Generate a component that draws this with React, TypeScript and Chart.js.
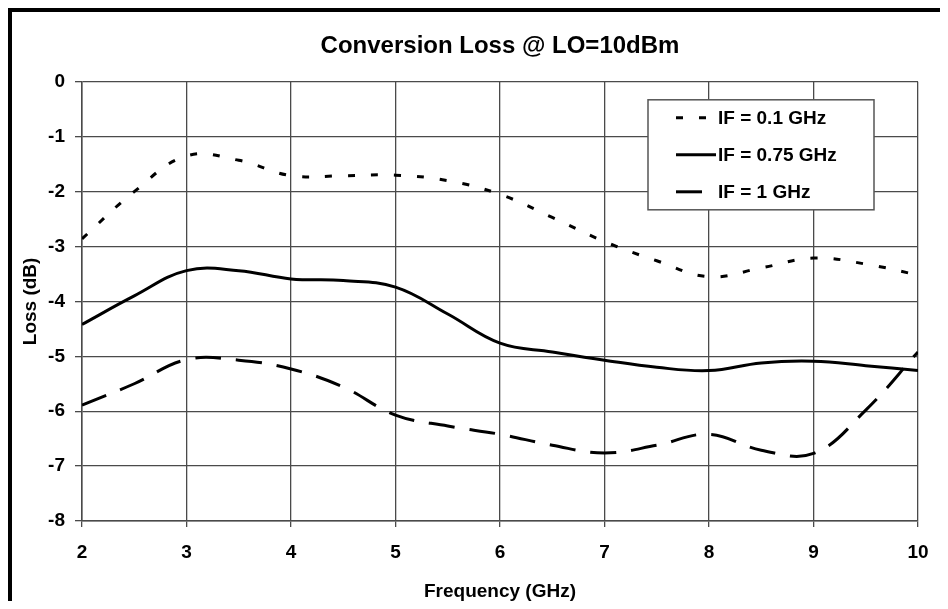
import React, { useEffect, useRef } from "react";
import { Chart, registerables } from "chart.js";

Chart.register(...registerables);

const frequencies = [2, 2.5, 3, 3.5, 4, 4.5, 5, 5.5, 6, 6.5, 7, 7.5, 8, 8.5, 9, 9.5, 10];
const lossIf01 = [-2.86, -2.0, -1.35, -1.43, -1.71, -1.71, -1.7, -1.8, -2.05, -2.47, -2.91, -3.26, -3.55, -3.39, -3.21, -3.32, -3.52];
const lossIf075 = [-4.42, -3.9, -3.44, -3.44, -3.59, -3.62, -3.74, -4.23, -4.76, -4.92, -5.07, -5.2, -5.26, -5.12, -5.09, -5.17, -5.26];
const lossIf1 = [-5.89, -5.5, -5.06, -5.07, -5.23, -5.56, -6.07, -6.27, -6.42, -6.62, -6.76, -6.62, -6.42, -6.71, -6.77, -5.98, -4.92];
const seriesLabels = ["IF = 0.1 GHz", "IF = 0.75 GHz", "IF = 1 GHz"];
const xTicks = [2, 3, 4, 5, 6, 7, 8, 9, 10];
const yTicks = [0, -1, -2, -3, -4, -5, -6, -7, -8];
const titleText = "Conversion Loss @ LO=10dBm";
const xTitle = "Frequency (GHz)";
const yTitle = "Loss (dB)";

const FONT = '"Liberation Sans", Arial, Helvetica, sans-serif';
const GRID = "#4a4a4a";

const legendPlugin = {
  id: "insideLegend",
  afterDraw(chart: any) {
    const { ctx, chartArea } = chart;
    const w = 226;
    const h = 110;
    const x0 = chartArea.right - 44 - w;
    const y0 = chartArea.top + 18;
    ctx.save();
    ctx.fillStyle = "#ffffff";
    ctx.fillRect(x0, y0, w, h);
    ctx.strokeStyle = "#555555";
    ctx.lineWidth = 1.5;
    ctx.strokeRect(x0, y0, w, h);
    chart.data.datasets.forEach((ds: any, i: number) => {
      const cy = y0 + 18 + i * 37;
      ctx.beginPath();
      ctx.setLineDash(ds.borderDash || []);
      ctx.lineWidth = 3;
      ctx.strokeStyle = "#000";
      ctx.lineCap = "butt";
      ctx.moveTo(x0 + 28, cy);
      ctx.lineTo(x0 + 68, cy);
      ctx.stroke();
      ctx.setLineDash([]);
      ctx.font = `bold 19px ${FONT}`;
      ctx.fillStyle = "#000";
      ctx.textBaseline = "middle";
      ctx.textAlign = "left";
      ctx.fillText(ds.label, x0 + 70, cy + 1);
    });
    ctx.restore();
  },
};

export default function App() {
  const canvasRef = useRef<HTMLCanvasElement | null>(null);

  useEffect(() => {
    if (!canvasRef.current) return;
    const mk = (vals: number[]) => frequencies.map((f, i) => ({ x: f, y: vals[i] }));
    const chart = new Chart(canvasRef.current, {
      type: "line",
      data: {
        datasets: [
          {
            label: seriesLabels[0],
            data: mk(lossIf01),
            borderColor: "#000",
            borderWidth: 3,
            borderDash: [7, 16],
            pointRadius: 0,
            tension: 0.4,
            fill: false,
          },
          {
            label: seriesLabels[1],
            data: mk(lossIf075),
            borderColor: "#000",
            borderWidth: 3,
            pointRadius: 0,
            tension: 0.4,
            fill: false,
          },
          {
            label: seriesLabels[2],
            data: mk(lossIf1),
            borderColor: "#000",
            borderWidth: 3,
            borderDash: [26, 15],
            pointRadius: 0,
            tension: 0.4,
            fill: false,
          },
        ],
      },
      options: {
        animation: false,
        responsive: false,
        devicePixelRatio: 1,
        layout: { padding: { left: 0, right: 22, top: 0, bottom: 0 } },
        plugins: {
          legend: { display: false },
          tooltip: { enabled: false },
          title: {
            display: true,
            fullSize: false,
            text: titleText,
            color: "#000",
            font: { family: FONT, size: 24, weight: "bold" },
            padding: { top: 20, bottom: 21 },
          },
        },
        scales: {
          x: {
            type: "linear",
            min: 2,
            max: 10,
            afterBuildTicks: (scale: any) => {
              scale.ticks = xTicks.map((v) => ({ value: v }));
            },
            afterFit: (scale: any) => {
              scale.height = 80;
              scale.paddingLeft = 0;
              scale.paddingRight = 0;
            },
            ticks: {
              color: "#000",
              font: { family: FONT, size: 19, weight: "bold" },
              padding: 14,
              maxRotation: 0,
              autoSkip: false,
            },
            grid: { color: GRID, lineWidth: 1.3, tickLength: 6, drawTicks: true },
            border: { display: true, color: GRID, width: 1.5 },
            title: {
              display: true,
              text: xTitle,
              color: "#000",
              font: { family: FONT, size: 19, weight: "bold", lineHeight: 1 },
              padding: { top: 0, bottom: 0 },
            },
          },
          y: {
            type: "linear",
            min: -8,
            max: 0,
            afterBuildTicks: (scale: any) => {
              scale.ticks = yTicks.map((v) => ({ value: v }));
            },
            afterFit: (scale: any) => {
              scale.width = 70;
              scale.paddingTop = 0;
              scale.paddingBottom = 0;
            },
            ticks: {
              color: "#000",
              font: { family: FONT, size: 19, weight: "bold" },
              padding: 10,
              autoSkip: false,
            },
            grid: { color: GRID, lineWidth: 1.3, tickLength: 7, drawTicks: true },
            border: { display: true, color: GRID, width: 1.5 },
            title: {
              display: true,
              text: yTitle,
              color: "#000",
              font: { family: FONT, size: 19, weight: "bold", lineHeight: 1 },
              padding: { top: 9, bottom: 0 },
            },
          },
        },
      },
      plugins: [legendPlugin],
    } as any);
    return () => chart.destroy();
  }, []);

  return (
    <div
      style={{
        borderTop: "4px solid #000",
        borderLeft: "4px solid #000",
        width: 928,
        height: 589,
        background: "#fff",
      }}
    >
      <canvas ref={canvasRef} width={928} height={589} style={{ display: "block" }} />
    </div>
  );
}
